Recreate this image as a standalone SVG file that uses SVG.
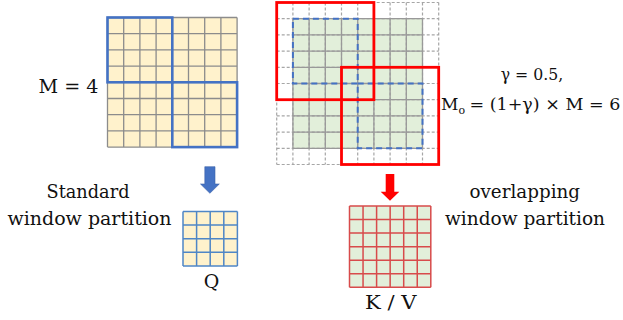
<svg xmlns="http://www.w3.org/2000/svg" width="623" height="320" viewBox="0 0 623 320">
<style>
.t{font-family:'DejaVu Serif','Liberation Serif',serif;fill:#111}
.gridL{fill:none;stroke:#8C8C8C;stroke-width:1.3}
.gridS{fill:none;stroke:#999;stroke-width:1.3}
.gridD{fill:none;stroke:#A6A6A6;stroke-width:1.2;stroke-dasharray:3 2}
.blueW{fill:none;stroke:#4472C4;stroke-width:2.6}
.blueD{fill:none;stroke:#4472C4;stroke-width:2;stroke-dasharray:6 4}
.redW{fill:none;stroke:#FF0000;stroke-width:2.8}
.cream{fill:#FFF2CC}
.green{fill:#E2EFDA}
</style>
<rect width="623" height="320" fill="#fff"/>

<g id="input-grid">
<rect class="cream" x="107.5" y="17.5" width="129.6" height="129.6"/>
<path class="gridL" d="M107.5 17.5V147.1M123.7 17.5V147.1M139.9 17.5V147.1M156.1 17.5V147.1M172.3 17.5V147.1M188.5 17.5V147.1M204.7 17.5V147.1M220.9 17.5V147.1M237.1 17.5V147.1M107.5 17.5H237.1M107.5 33.7H237.1M107.5 49.9H237.1M107.5 66.1H237.1M107.5 82.3H237.1M107.5 98.5H237.1M107.5 114.7H237.1M107.5 130.9H237.1M107.5 147.1H237.1"/>
<rect class="blueW" x="107.5" y="17.5" width="64.8" height="64.8"/>
<rect class="blueW" x="172.3" y="82.3" width="64.8" height="64.8"/>
</g>

<g id="overlap-grid">
<rect class="green" x="292.9" y="18.7" width="129.6" height="129.6"/>
<path class="gridD" d="M276.7 2.5V164.5M292.9 2.5V164.5M309.1 2.5V164.5M325.3 2.5V164.5M341.5 2.5V164.5M357.7 2.5V164.5M373.9 2.5V164.5M390.1 2.5V164.5M406.3 2.5V164.5M422.5 2.5V164.5M438.7 2.5V164.5M276.7 2.5H438.7M276.7 18.7H438.7M276.7 34.9H438.7M276.7 51.1H438.7M276.7 67.3H438.7M276.7 83.5H438.7M276.7 99.7H438.7M276.7 115.9H438.7M276.7 132.1H438.7M276.7 148.3H438.7M276.7 164.5H438.7"/>
<path class="gridS" d="M292.9 18.7V148.3M309.1 18.7V148.3M325.3 18.7V148.3M341.5 18.7V148.3M357.7 18.7V148.3M373.9 18.7V148.3M390.1 18.7V148.3M406.3 18.7V148.3M422.5 18.7V148.3M292.9 18.7H422.5M292.9 34.9H422.5M292.9 51.1H422.5M292.9 67.3H422.5M292.9 83.5H422.5M292.9 99.7H422.5M292.9 115.9H422.5M292.9 132.1H422.5M292.9 148.3H422.5"/>
<rect class="blueD" x="292.9" y="18.7" width="64.8" height="64.8"/>
<rect class="blueD" x="357.7" y="83.5" width="64.8" height="64.8"/>
<rect class="redW" x="276.7" y="2.5" width="97.2" height="97.2"/>
<rect class="redW" x="341.5" y="67.3" width="97.2" height="97.2"/>
</g>

<g id="q-grid">
<rect class="cream" x="183" y="211.5" width="54.4" height="54.4"/>
<path fill="none" stroke="#4F86C6" stroke-width="1.5" d="M183 211.5V265.9M196.6 211.5V265.9M210.2 211.5V265.9M223.8 211.5V265.9M237.4 211.5V265.9M183 211.5H237.4M183 225.1H237.4M183 238.7H237.4M183 252.3H237.4M183 265.9H237.4"/>
</g>

<g id="kv-grid">
<rect class="green" x="349.5" y="206" width="81.3" height="81.3"/>
<path fill="none" stroke="#D84B4B" stroke-width="1.5" d="M349.5 206V287.3M363.05 206V287.3M376.6 206V287.3M390.15 206V287.3M403.7 206V287.3M417.25 206V287.3M430.8 206V287.3M349.5 206H430.8M349.5 219.55H430.8M349.5 233.1H430.8M349.5 246.65H430.8M349.5 260.2H430.8M349.5 273.75H430.8M349.5 287.3H430.8"/>
</g>

<g id="connectors">
<polygon points="204.8,166.7 215,166.7 215,184 219.3,184 209.9,193.3 200.5,184 204.8,184" fill="#4472C4" stroke="#3A62A8" stroke-width="0.6"/>
<polygon points="385.7,174 394.3,174 394.3,191.7 399.3,191.7 390,200.7 380.7,191.7 385.7,191.7" fill="#FF0000"/>
</g>

<g id="labels">
<text class="t" x="38.5" y="93.3" font-size="19" textLength="60" lengthAdjust="spacingAndGlyphs">M = 4</text>
<text class="t" x="46.5" y="198" font-size="19" textLength="83" lengthAdjust="spacingAndGlyphs">Standard</text>
<text class="t" x="7.5" y="225" font-size="19" textLength="164" lengthAdjust="spacingAndGlyphs">window partition</text>
<text class="t" x="469.5" y="198.3" font-size="19" textLength="110.5" lengthAdjust="spacingAndGlyphs">overlapping</text>
<text class="t" x="445" y="225" font-size="19" textLength="160" lengthAdjust="spacingAndGlyphs">window partition</text>
<text class="t" x="211.5" y="288" font-size="19" text-anchor="middle">Q</text>
<text class="t" x="365" y="309.3" font-size="19" textLength="51.5" lengthAdjust="spacingAndGlyphs">K / V</text>
<text class="t" x="500.7" y="80" font-size="17" textLength="62.5" lengthAdjust="spacingAndGlyphs">γ = 0.5,</text>
<text class="t" x="441" y="110" font-size="17">M<tspan x="458.5" dy="4" font-size="11">o</tspan><tspan x="469.5" dy="-4" font-size="17.5">= (1+γ) × M = 6</tspan></text>
</g>
</svg>
